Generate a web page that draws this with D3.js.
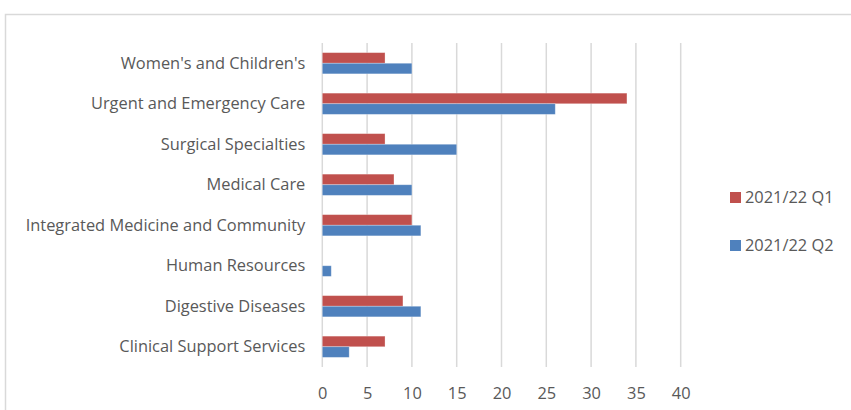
<!DOCTYPE html>
<html>
<head>
<meta charset="utf-8">
<script src="https://cdn.jsdelivr.net/npm/d3@7"></script>
<style>
  html, body { margin: 0; padding: 0; background: #fff; }
  svg { display: block; }
  text { font-family: "Open Sans", "Noto Sans", sans-serif; fill: #595959; }
</style>
</head>
<body>
<script>
// Categories, listed top to bottom
const categories = [
  "Women's and Children's",
  "Urgent and Emergency Care",
  "Surgical Specialties",
  "Medical Care",
  "Integrated Medicine and Community",
  "Human Resources",
  "Digestive Diseases",
  "Clinical Support Services"
];
const seriesNames = ["2021/22 Q1", "2021/22 Q2"];
const q1Values = [7, 34, 7, 8, 10, 0, 9, 7];
const q2Values = [10, 26, 15, 10, 11, 1, 11, 3];
const xTicks = [0, 5, 10, 15, 20, 25, 30, 35, 40];
const colors = ["#C0504D", "#4F81BD"];

const W = 851, H = 410;
const FONT = "16.4px";
const plot = { left: 322.3, right: 680.7, top: 43, bottom: 367 };

const svg = d3.select("body").append("svg")
  .attr("width", W).attr("height", H);

// chart frame
svg.append("rect")
  .attr("x", 5.5).attr("y", 14.5)
  .attr("width", W + 10).attr("height", H + 10)
  .attr("fill", "none").attr("stroke", "#d9d9d9").attr("stroke-width", 1.5);

const x = d3.scaleLinear().domain([0, 40]).range([plot.left, plot.right]);
const y = d3.scaleBand().domain(categories).range([plot.top, plot.bottom])
  .paddingInner(0.476).paddingOuter(0.238);
const ySub = d3.scaleBand().domain(seriesNames).range([0, y.bandwidth()]);

// vertical gridlines
svg.append("g").selectAll("line").data(xTicks).join("line")
  .attr("x1", d => x(d)).attr("x2", d => x(d))
  .attr("y1", plot.top).attr("y2", plot.bottom)
  .attr("stroke", "#d9d9d9").attr("stroke-width", 1.5);

// bars
const rows = categories.map((c, i) => ({ cat: c, vals: [q1Values[i], q2Values[i]] }));
const groups = svg.append("g").selectAll("g").data(rows).join("g")
  .attr("transform", d => `translate(0,${y(d.cat)})`);
groups.selectAll("rect")
  .data(d => d.vals.map((v, j) => ({ v, s: seriesNames[j], c: colors[j] })))
  .join("rect")
  .attr("x", x(0))
  .attr("y", d => ySub(d.s))
  .attr("width", d => x(d.v) - x(0))
  .attr("height", ySub.bandwidth())
  .attr("fill", d => d.c)
  .attr("stroke", "rgba(255,255,255,0.35)")
  .attr("stroke-width", d => d.v > 0 ? 0.8 : 0);

// category axis labels
const yAxis = d3.axisLeft(y).tickSize(0).tickPadding(17);
const ya = svg.append("g").attr("transform", `translate(${plot.left},0)`).call(yAxis);
ya.select(".domain").remove();
ya.selectAll("text").style("font-size", FONT).attr("fill", "#595959")
  .style("font-family", "'Open Sans', 'Noto Sans', sans-serif");

// value axis labels
const xAxis = d3.axisBottom(x).tickValues(xTicks).tickSize(0).tickPadding(20);
const xa = svg.append("g").attr("transform", `translate(0,${plot.bottom})`).call(xAxis);
xa.select(".domain").remove();
xa.selectAll("text").style("font-size", FONT).attr("fill", "#595959")
  .style("font-family", "'Open Sans', 'Noto Sans', sans-serif");

// legend
const legend = svg.append("g").selectAll("g").data(seriesNames).join("g")
  .attr("transform", (d, i) => `translate(730,${192 + i * 48})`);
legend.append("rect").attr("width", 11).attr("height", 11)
  .attr("fill", (d, i) => colors[i]);
legend.append("text").attr("x", 15).attr("y", 5.5).attr("dy", "0.35em")
  .style("font-size", FONT).text(d => d);
</script>
</body>
</html>
